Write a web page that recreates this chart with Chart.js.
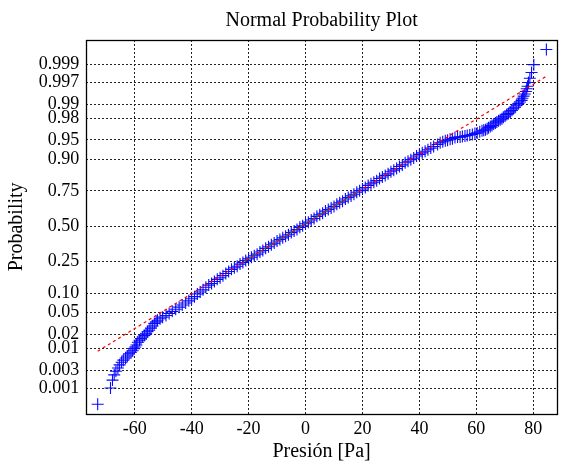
<!DOCTYPE html>
<html><head><meta charset="utf-8">
<script src="https://cdn.jsdelivr.net/npm/chart.js@4.4.0/dist/chart.umd.min.js"></script>
<style>html,body{margin:0;padding:0;background:#fff}canvas{display:block}</style>
</head><body>
<canvas id="c" width="564" height="463"></canvas>
<script>
// Sorted pressure samples [Pa]
const presionPa = [
 -73.0,-68.5,-67.8,-67.2,-66.6,-65.9,-65.3,-64.6,-64.0,-63.2,-62.6,-62.0,-61.3,-60.7,-60.2,-59.8,-59.4,-58.9,-58.3,-57.8,
 -57.2,-56.6,-56.0,-55.5,-54.9,-54.3,-53.7,-53.1,-52.5,-52.0,-51.1,-50.2,-49.0,-47.9,-46.8,-45.6,-44.4,-43.3,-42.1,-41.0,
 -40,-39,-38,-37,-36,-35,-34,-33,-32,-31,-30,-29,-28,-27,-26,-25,-24,-23,-22,-21,
 -20,-19,-18,-17,-16,-15,-14,-13,-12,-11,-10,-9,-8,-7,-6,-5,-4,-3,-2,-1,
 0,1,2,3,4,5,6,7,8,9,10,11,12,13,14,15,16,17,18,19,
 20,21,22,23,24,25,26,27,28,29,30,31,32,33,34,35,36,37,38,39,
 40,41,42,43,44,45,
 46.4,47.3,48.2,49.1,49.9,50.8,51.6,52.5,53.4,54.3,55.1,56.0,56.8,57.7,58.6,59.5,60.3,61.2,62.0,62.6,
 63.2,63.8,64.3,64.9,65.5,66.1,66.7,67.2,67.8,68.4,69.0,69.5,70.1,70.7,71.3,71.9,72.5,73.0,73.6,74.2,
 74.8,75.3,75.9,76.2,76.6,77.0,77.4,77.7,78.0,78.3,78.8,79.4,80.2,84.6
];
// Matching position on the probability axis, in standard-normal quantile units
const probabilityZ = [
 -3.39,-3.08,-2.93,-2.83,-2.76,-2.70,-2.64,-2.59,-2.55,-2.51,-2.47,-2.43,-2.40,-2.37,-2.33,-2.30,-2.26,-2.21,-2.17,-2.14,
 -2.11,-2.08,-2.05,-2.01,-1.98,-1.94,-1.90,-1.85,-1.82,-1.79,-1.76,-1.73,-1.70,-1.66,-1.62,-1.58,-1.54,-1.50,-1.46,-1.42,
 -1.38,-1.34,-1.29,-1.25,-1.21,-1.16,-1.12,-1.09,-1.05,-1.01,-0.98,-0.94,-0.90,-0.86,-0.82,-0.79,-0.76,-0.72,-0.69,-0.65,
 -0.62,-0.59,-0.56,-0.53,-0.49,-0.46,-0.42,-0.39,-0.35,-0.32,-0.28,-0.25,-0.22,-0.19,-0.16,-0.12,-0.09,-0.06,-0.02,0.01,
 0.05,0.08,0.12,0.15,0.19,0.22,0.25,0.29,0.32,0.35,0.38,0.42,0.45,0.48,0.52,0.55,0.58,0.61,0.65,0.68,
 0.71,0.74,0.78,0.81,0.84,0.87,0.91,0.94,0.97,1.00,1.04,1.07,1.10,1.14,1.17,1.21,1.24,1.27,1.30,1.34,
 1.37,1.40,1.43,1.46,1.49,1.52,
 1.56,1.59,1.61,1.63,1.64,1.66,1.67,1.69,1.70,1.70,1.71,1.72,1.73,1.74,1.75,1.77,1.78,1.80,1.82,1.83,
 1.84,1.86,1.88,1.90,1.92,1.95,1.97,1.99,2.01,2.03,2.05,2.08,2.10,2.13,2.15,2.18,2.21,2.24,2.27,2.31,
 2.34,2.37,2.40,2.44,2.48,2.52,2.57,2.62,2.67,2.74,2.82,2.93,3.08,3.37
];
const probTickValues = [0.001,0.003,0.01,0.02,0.05,0.10,0.25,0.50,0.75,0.90,0.95,0.98,0.99,0.997,0.999];
const probTickLabels = ['0.001','0.003','0.01','0.02','0.05','0.10','0.25','0.50','0.75','0.90','0.95','0.98','0.99','0.997','0.999'];
const xTickValues = [-60,-40,-20,0,20,40,60,80];
// Reference fit line (dashed, data min to max) and quartile segment
const refLineX = [-73.0, 84.6];
const refLineZ = [-2.38, 2.86];
const quartileLineX = [-21.8, 18.8];
const quartileLineZ = [-0.674, 0.674];

function norminv(p){
  const a=[-3.969683028665376e+01,2.209460984245205e+02,-2.759285104469687e+02,1.383577518672690e+02,-3.066479806614716e+01,2.506628277459239e+00];
  const b=[-5.447609879822406e+01,1.615858368580409e+02,-1.556989798598866e+02,6.680131188771972e+01,-1.328068155288572e+01];
  const c=[-7.784894002430293e-03,-3.223964580411365e-01,-2.400758277161838e+00,-2.549732539343734e+00,4.374664141464968e+00,2.938163982698783e+00];
  const d=[7.784695709041462e-03,3.224671290700398e-01,2.445134137142996e+00,3.754408661907416e+00];
  const pl=0.02425, ph=1-pl; let q,r;
  if(p<pl){q=Math.sqrt(-2*Math.log(p));return (((((c[0]*q+c[1])*q+c[2])*q+c[3])*q+c[4])*q+c[5])/((((d[0]*q+d[1])*q+d[2])*q+d[3])*q+1);}
  if(p<=ph){q=p-0.5;r=q*q;return (((((a[0]*r+a[1])*r+a[2])*r+a[3])*r+a[4])*r+a[5])*q/(((((b[0]*r+b[1])*r+b[2])*r+b[3])*r+b[4])*r+1);}
  q=Math.sqrt(-2*Math.log(1-p));return -(((((c[0]*q+c[1])*q+c[2])*q+c[3])*q+c[4])*q+c[5])/((((d[0]*q+d[1])*q+d[2])*q+d[3])*q+1);
}

const FONT='"Liberation Serif", "Times New Roman", serif';
const boxPlugin={id:'box',afterDraw(chart){const a=chart.chartArea,ctx=chart.ctx;ctx.save();ctx.strokeStyle='#000';ctx.lineWidth=1.3;ctx.setLineDash([]);
  ctx.strokeRect(Math.round(a.left)+0.5,Math.round(a.top)+0.5,Math.round(a.right)-Math.round(a.left),Math.round(a.bottom)-Math.round(a.top));ctx.restore();}};

new Chart(document.getElementById('c'),{
  type:'scatter',
  data:{datasets:[
    {type:'line',data:refLineX.map((x,i)=>({x,y:refLineZ[i]})),borderColor:'#ff0000',borderWidth:1.2,borderDash:[3,3],pointRadius:0,fill:false,order:0},
    {type:'line',data:quartileLineX.map((x,i)=>({x,y:quartileLineZ[i]})),borderColor:'rgb(30,130,30)',borderWidth:1,pointRadius:0,fill:false,order:0},
    {data:presionPa.map((x,i)=>({x,y:probabilityZ[i]})),pointStyle:'cross',pointRadius:6,pointHoverRadius:6,borderColor:'#0a0aff',backgroundColor:'#0a0aff',pointBorderWidth:1.1,showLine:false,order:1}
  ]},
  options:{
    responsive:false,animation:false,devicePixelRatio:1,
    layout:{padding:{left:0,right:1.7,top:0,bottom:0}},
    plugins:{legend:{display:false},tooltip:{enabled:false},
      title:{display:true,text:'Normal Probability Plot',fullSize:false,color:'#000',font:{family:FONT,size:20,weight:'normal',lineHeight:1.2},padding:{top:9,bottom:7}}},
    scales:{
      x:{type:'linear',min:-77,max:88.3,
        afterBuildTicks:s=>{s.ticks=xTickValues.map(v=>({value:v}));},
        afterFit:s=>{s.height=49.3;},
        ticks:{autoSkip:false,maxRotation:0,padding:5,color:'#000',font:{family:FONT,size:18},callback:v=>String(v)},
        grid:{color:'#222',lineWidth:1,drawTicks:false},
        border:{display:false,dash:[2,2]},
        title:{display:true,text:'Presión [Pa]',color:'#000',font:{family:FONT,size:20,lineHeight:1},padding:{top:0,bottom:1}}},
      y:{type:'linear',min:-3.57,max:3.55,
        afterBuildTicks:s=>{s.ticks=probTickValues.map(p=>({value:norminv(p)}));},
        afterFit:s=>{s.width=86.3;},
        ticks:{autoSkip:false,padding:7,color:'#000',font:{family:FONT,size:18},callback:(v,i)=>probTickLabels[i]},
        grid:{color:'#222',lineWidth:1,drawTicks:false},
        border:{display:false,dash:[2,2]},
        title:{display:true,text:'Probability',color:'#000',font:{family:FONT,size:20,lineHeight:1},padding:{top:7,bottom:7}}}
    }
  },
  plugins:[boxPlugin]
});
</script>
</body></html>
